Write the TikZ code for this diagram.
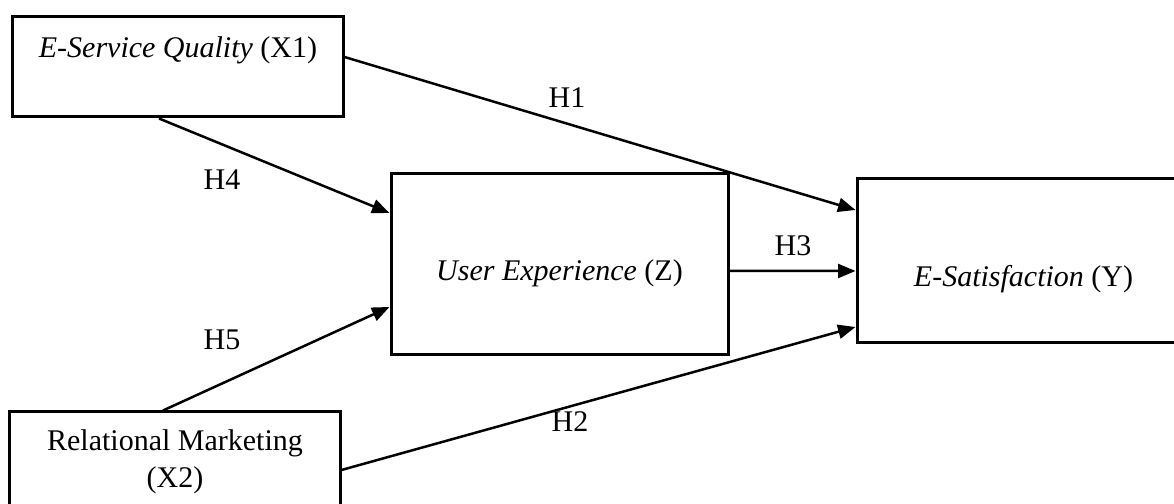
\documentclass[tikz,border=0pt]{standalone}
\usepackage{fontspec}
\setmainfont{Liberation Serif}
\usetikzlibrary{calc}
\usetikzlibrary{positioning}
\usetikzlibrary{arrows.meta}

\begin{document}
\begin{tikzpicture}[%
  >={Triangle[length=7pt,width=5.6pt]},
  x=0.4pt, y=-0.4pt,
  font=\fontsize{12}{15}\selectfont,
  var/.style={draw, line width=1.2pt, inner sep=0pt, align=center},
  path/.style={->, line width=1pt},
]

  \useasboundingbox (0,0) rectangle (1174,504);

  % variables
  \node[var, minimum width=132pt, minimum height=40pt, text depth=16.2pt]
    (x1) at (178,67) {\textit{E-Service Quality} (X1)};
  \node[var, minimum width=132pt, minimum height=40pt]
    (x2) at (175,462) {Relational Marketing\\(X2)};
  \node[var, minimum width=134.8pt, minimum height=72.4pt, text height=15.4pt]
    (z) at (559.5,264.5) {\textit{User Experience} (Z)};
  \node[var, minimum width=133.2pt, minimum height=65.6pt, text height=22.6pt]
    (y) at (1023.5,261) {\textit{E-Satisfaction} (Y)};

  % hypotheses
  \draw[path] ([yshift=4pt]x1.east) -- ([yshift=20.4pt]y.west);
  \draw[path] ([yshift=-3.2pt]x2.east) -- ([yshift=-26.4pt]y.west);
  \draw[path] ([yshift=-2.6pt]z.east) -- ([yshift=-4pt]y.west);
  \draw[path] ([xshift=-7.6pt]x1.south) -- ([yshift=20.6pt]z.west);
  \draw[path] ([xshift=-4.8pt]x2.north) -- ([yshift=-17pt]z.west);

  \node (h1) at (567,98) {H1};
  \node (h2) at (570,422) {H2};
  \node (h3) at (793,246) {H3};
  \node (h4) at (222,180) {H4};
  \node (h5) at (222,340) {H5};

\end{tikzpicture}
\end{document}
